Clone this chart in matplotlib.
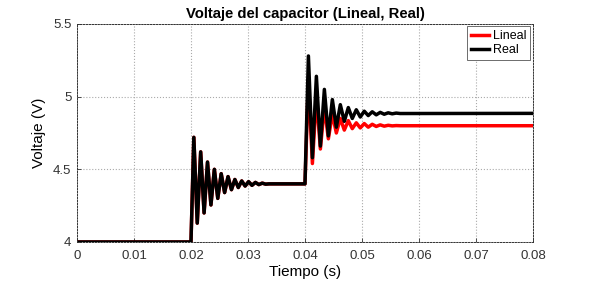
import matplotlib
matplotlib.use("Agg")
import matplotlib.pyplot as plt

plt.rcParams['font.family'] = ['Liberation Sans', 'DejaVu Sans']

# Segment 1 (both models identical): times of extrema and values
t_seg1 = [0.0, 0.0200, 0.0205, 0.0211, 0.0217, 0.0223, 0.0229, 0.0235, 0.0241,
          0.0247, 0.0253, 0.0259, 0.0265, 0.0271, 0.0277, 0.0283, 0.0289, 0.0295,
          0.0301, 0.0307, 0.0313, 0.0319, 0.0325, 0.0331, 0.0337, 0.0400]
v_seg1 = [4.0, 4.0, 4.72, 4.13, 4.62, 4.20, 4.55, 4.255, 4.50, 4.30, 4.47, 4.34,
          4.45, 4.36, 4.43, 4.375, 4.42, 4.385, 4.415, 4.39, 4.41, 4.395, 4.405,
          4.398, 4.40, 4.40]

# Segment 2: times of extrema
t_seg2 = [0.0400, 0.0406, 0.0413, 0.0420, 0.0427, 0.0434, 0.0441, 0.0448, 0.0455,
          0.0462, 0.0469, 0.0476, 0.0483, 0.0490, 0.0497, 0.0504, 0.0511, 0.0518,
          0.0525, 0.0532, 0.0539, 0.0546, 0.0553, 0.0560, 0.0567, 0.0800]
real_seg2 = [4.40, 5.28, 4.58, 5.14, 4.66, 5.05, 4.73, 4.98, 4.79, 4.945, 4.83,
             4.925, 4.85, 4.91, 4.86, 4.90, 4.87, 4.896, 4.875, 4.892, 4.879,
             4.889, 4.882, 4.887, 4.884, 4.885]
lineal_seg2 = [4.40, 5.12, 4.54, 5.00, 4.64, 4.93, 4.71, 4.88, 4.75, 4.85, 4.77,
               4.835, 4.78, 4.82, 4.785, 4.815, 4.79, 4.81, 4.795, 4.806, 4.797,
               4.803, 4.799, 4.801, 4.80, 4.80]

x_ticks = [0, 0.01, 0.02, 0.03, 0.04, 0.05, 0.06, 0.07, 0.08]
x_labels = ['0', '0.01', '0.02', '0.03', '0.04', '0.05', '0.06', '0.07', '0.08']
y_ticks = [4, 4.5, 5, 5.5]
y_labels = ['4', '4.5', '5', '5.5']

t_all = t_seg1 + t_seg2[1:]
lineal = v_seg1 + lineal_seg2[1:]
real = v_seg1 + real_seg2[1:]

fig = plt.figure(figsize=(5.89, 2.85), dpi=100)
ax = fig.add_axes([0.1307, 0.1509, 0.7742, 0.7649])

ax.plot(t_all, lineal, color='#ff0000', lw=2.5, label='Lineal', solid_joinstyle='round')
ax.plot(t_all, real, color='#000000', lw=2.5, label='Real', solid_joinstyle='round')

ax.set_xlim(0, 0.08)
ax.set_ylim(4, 5.5)
ax.set_xticks(x_ticks)
ax.set_xticklabels(x_labels)
ax.set_yticks(y_ticks)
ax.set_yticklabels(y_labels)
ax.tick_params(labelsize=9.5, colors='#333333', direction='in', length=3, width=0.6, pad=4)
ax.tick_params(axis='x', pad=6)
ax.grid(True, linestyle=':', color='#aaaaaa', linewidth=0.8)
for s in ax.spines.values():
    s.set_linestyle((0, (1.5, 1.5)))
    s.set_linewidth(0.7)
    s.set_color('#333333')

ax.set_title('Voltaje del capacitor (Lineal, Real)', fontsize=10.7, fontweight='bold', pad=4)
ax.set_xlabel('Tiempo (s)', fontsize=11, labelpad=2)
ax.set_ylabel('Voltaje (V)', fontsize=11, labelpad=5)

leg = ax.legend(loc='upper right', fontsize=9, handlelength=1.5, handletextpad=0.3,
                borderpad=0.3, labelspacing=0.15, fancybox=False, framealpha=1,
                edgecolor='#555555', borderaxespad=0.2)
leg.get_frame().set_linewidth(0.6)

fig.savefig('out.png', dpi=100)
